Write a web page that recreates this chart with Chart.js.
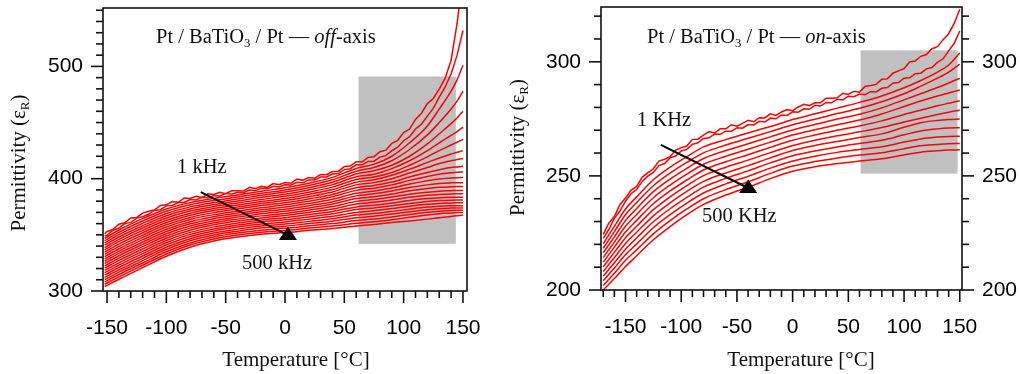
<!DOCTYPE html>
<html>
<head>
<meta charset="utf-8">
<script src="https://cdn.jsdelivr.net/npm/chart.js@4"></script>
<style>
  html, body { margin: 0; padding: 0; background: #fff; }
  #wrap { position: relative; width: 1020px; height: 374px; }
  #offChart { position: absolute; left: 0; top: 0; }
  #onChart { position: absolute; left: 500px; top: 0; }
</style>
</head>
<body>
<div id="wrap">
  <canvas id="offChart" width="500" height="374" style="width:500px;height:374px"></canvas>
  <canvas id="onChart" width="520" height="374" style="width:520px;height:374px"></canvas>
</div>
<script>
// temperaturas (°C) onde as curvas foram lidas
const tempOff = [-152, -140, -120, -100, -80, -60, -40, -20, 0, 20, 40, 60, 75, 90, 105, 120, 130, 140, 145, 150]
const tempOffFine = [-152, -150, -145, -140, -135, -130, -125, -120, -115, -110, -105, -100, -95, -90, -85, -80, -75, -70, -65, -60,
  -55, -50, -45, -40, -35, -30, -25, -20, -15, -10, -5, 0, 5, 10, 15, 20, 25, 30, 35, 40,
  45, 50, 55, 60, 65, 70, 75, 80, 85, 90, 95, 100, 105, 110, 115, 120, 125, 130, 135, 140, 145, 150]
const tempOn = [-170, -160, -150, -140, -125, -110, -95, -80, -60, -40, -20, 0, 20, 40, 60, 80, 100, 115, 130, 140, 150]
const tempOnFine = [-170, -165, -160, -155, -150, -145, -140, -135, -130, -125, -120, -115, -110, -105, -100, -95, -90, -85, -80, -75,
  -70, -65, -60, -55, -50, -45, -40, -35, -30, -25, -20, -15, -10, -5, 0, 5, 10, 15, 20, 25,
  30, 35, 40, 45, 50, 55, 60, 65, 70, 75, 80, 85, 90, 95, 100, 105, 110, 115, 120, 125, 130, 135, 140, 145, 150]

// off-axis: as duas curvas de baixa frequência (ruidosas), 1 kHz primeiro
const offTop1 = [351, 353.0, 354.9, 359.5, 360.8, 365.0, 365.5, 369.4, 371.0, 372.1, 376.2, 376.7, 379.6, 379.0, 382.7, 382.3, 384.3, 383.2, 386.5, 386.0,
  387.9, 386.7, 389.2, 389.2, 389.0, 392.3, 391.2, 393.3, 392.3, 395.7, 394.6, 396.6, 395.9, 399.6, 398.7, 401.0, 400.4, 403.8, 403.6, 406.4,
  406.7, 410.8, 411.2, 415.1, 415.0, 418.9, 419.6, 424.0, 425.4, 431.4, 434.2, 441.0, 444.2, 452.8, 458.3, 466.9, 471.4, 479.8, 489.5, 505.5, 538, 580]
const offTop2 = [349.0, 349.6, 354.1, 356.0, 360.0, 361.1, 364.9, 366.1, 368.3, 371.9, 372.4, 375.8, 376.2, 378.8, 378.8, 381.4, 381.0, 383.5, 383.0, 384.9,
  384.6, 386.9, 386.1, 387.9, 387.6, 389.9, 389.4, 391.5, 391.0, 393.3, 392.6, 394.6, 394.3, 396.8, 396.5, 398.9, 398.8, 401.5, 401.5, 404.1,
  404.6, 408.1, 408.9, 412.4, 412.5, 415.4, 415.6, 419.2, 420.5, 424.9, 428.1, 433.8, 437.5, 444.3, 448.6, 455.7, 462.6, 472.6, 481.7, 493.5, 509.8, 532]
// off-axis: demais frequências, até 500 kHz (última)
const offAxis = [
  [346.9, 354.3, 364.4, 373.0, 378.7, 382.4, 385.4, 388.8, 391.9, 396.0, 401.2, 409.1, 413, 420, 432, 447, 462, 478, 488, 501],
  [344.9, 352.2, 362.3, 371.0, 376.8, 380.6, 383.7, 387.0, 390.0, 394.0, 399.0, 406.7, 410, 416, 426, 439, 450, 462, 469, 478],
  [342.8, 350.2, 360.2, 369.0, 374.9, 378.8, 381.9, 385.2, 388.1, 392.0, 396.8, 404.2, 407, 412, 420, 431, 440, 449, 454, 460],
  [340.8, 348.1, 358.1, 367.0, 373.0, 377.0, 380.1, 383.4, 386.2, 390.0, 394.7, 401.8, 404, 409, 416, 425, 432, 438.5, 442, 446],
  [338.7, 346.0, 356.1, 365.0, 371.2, 375.2, 378.3, 381.5, 384.3, 388.0, 392.5, 399.3, 401.5, 405.5, 412, 419.5, 425, 430, 432.5, 435],
  [336.7, 343.9, 354.0, 363.0, 369.3, 373.4, 376.5, 379.7, 382.4, 386.0, 390.3, 396.9, 399, 403, 408.5, 414.5, 418.5, 422, 423.5, 425],
  [334.7, 341.8, 351.9, 361.0, 367.4, 371.6, 374.7, 377.9, 380.5, 384.0, 388.2, 394.5, 396.5, 400, 405, 410, 413.5, 416, 417, 418],
  [332.6, 339.7, 349.8, 359.0, 365.5, 369.8, 373.0, 376.1, 378.6, 382.0, 386.0, 392.0, 394, 397, 401.5, 405.5, 408, 410, 410.5, 411],
  [330.6, 337.6, 347.8, 357.0, 363.6, 368.0, 371.2, 374.2, 376.7, 380.0, 383.9, 389.6, 391.5, 394.5, 398.5, 402, 404, 405.3, 405.8, 406],
  [328.5, 335.5, 345.7, 355.0, 361.7, 366.2, 369.4, 372.4, 374.8, 378.0, 381.7, 387.1, 389, 391.8, 395.3, 398.2, 399.8, 400.6, 400.9, 401],
  [326.5, 333.5, 343.6, 353.0, 359.8, 364.4, 367.6, 370.6, 372.9, 376.0, 379.5, 384.7, 386.5, 389, 392.2, 394.5, 395.7, 396.3, 396.5, 396.5],
  [324.4, 331.4, 341.5, 351.0, 357.9, 362.5, 365.8, 368.8, 371.0, 374.0, 377.4, 382.3, 384, 386.3, 389.2, 391.3, 392.3, 392.8, 393, 393],
  [322.4, 329.3, 339.5, 349.0, 356.0, 360.7, 364.0, 366.9, 369.1, 372.0, 375.2, 379.8, 381.4, 383.6, 386.2, 388, 388.9, 389.3, 389.5, 389.5],
  [320.4, 327.2, 337.4, 347.0, 354.1, 358.9, 362.3, 365.1, 367.2, 370.0, 373.0, 377.4, 379, 381, 383.4, 385.2, 386, 386.4, 386.5, 386.5],
  [318.3, 325.1, 335.3, 345.0, 352.2, 357.1, 360.5, 363.3, 365.3, 368.0, 370.8, 374.9, 376.4, 378.4, 380.6, 382.3, 383, 383.4, 383.5, 383.5],
  [316.3, 323.0, 333.3, 343.0, 350.4, 355.3, 358.7, 361.5, 363.4, 366.0, 368.7, 372.5, 374, 375.9, 378, 379.8, 380.5, 380.9, 381, 381],
  [314.2, 320.9, 331.2, 341.0, 348.5, 353.5, 356.9, 359.6, 361.5, 364.0, 366.5, 370.0, 371.5, 373.4, 375.5, 377.2, 378, 378.4, 378.5, 378.5],
  [312.2, 318.8, 329.1, 339.0, 346.6, 351.7, 355.1, 357.8, 359.6, 362.0, 364.3, 367.6, 369, 370.9, 372.9, 374.7, 375.5, 375.9, 376, 376],
  [310.1, 316.8, 327.0, 337.0, 344.7, 349.9, 353.3, 356.0, 357.7, 360.0, 362.2, 365.2, 366.6, 368.5, 370.6, 372.4, 373.3, 373.8, 374, 374],
  [308.1, 314.7, 324.9, 335.0, 342.8, 348.1, 351.6, 354.2, 355.8, 358.0, 360.0, 362.7, 364.1, 366, 368.1, 370.1, 371.1, 371.7, 371.9, 372],
  [306.0, 312.6, 322.9, 333.0, 340.9, 346.3, 349.8, 352.3, 353.9, 356.0, 357.9, 360.3, 361.7, 363.5, 365.6, 367.7, 368.8, 369.5, 369.8, 370],
  [304, 310.5, 320.8, 331, 339, 344.5, 348, 350.5, 352, 354, 355.7, 357.8, 359.3, 360.9, 362.4, 364, 365.2, 366.4, 367, 367.6]
]

// on-axis: as duas curvas ruidosas de baixa frequência, 1 KHz primeiro
const onTop1 = [224.4, 229.3, 232.2, 237.5, 240.3, 243.8, 245.4, 249.5, 251.3, 253.1, 256.5, 257.3, 258.4, 261.3, 262.4, 263.1, 266.0, 266.1, 267.9, 269.4,
  268.8, 270.6, 270.6, 272.4, 271.8, 273.0, 274.4, 273.7, 275.5, 275.4, 277.2, 276.5, 278.0, 279.1, 278.6, 280.2, 281.4, 280.8, 282.0, 282.0,
  284.0, 284.0, 284.2, 286.2, 285.7, 287.1, 286.7, 289.2, 289.6, 290.1, 292.3, 292.5, 295.0, 296.0, 297.0, 299.9, 300.3, 302.4, 303.2, 305.7,
  306.6, 309.7, 312.3, 316.8, 323]
const onTop2 = [222.6, 226.5, 231.4, 234.6, 238.9, 242.3, 244.0, 247.6, 249.9, 251.5, 254.5, 255.4, 257.9, 258.7, 260.9, 261.6, 263.8, 264.5, 266.4, 266.7,
  268.3, 268.2, 269.6, 269.6, 271.1, 270.9, 272.5, 272.3, 273.9, 273.6, 275.3, 275.0, 276.7, 276.5, 278.1, 277.9, 279.4, 279.2, 280.9, 280.6,
  282.2, 282.0, 283.6, 283.3, 284.9, 284.7, 285.9, 285.6, 286.9, 286.8, 288.4, 288.7, 290.6, 290.9, 292.8, 293.0, 294.8, 295.0, 296.9, 297.5,
  299.7, 301.3, 304.8, 308.1, 313.5]
// on-axis: demais frequências, até 500 KHz (última)
const onAxis = [
  [220.3, 227.9, 235.5, 240.8, 248.3, 253.8, 258.4, 262.7, 265.9, 268.8, 271.6, 274.7, 277.2, 279.7, 282.2, 285, 288.6, 291.8, 295.5, 298.6, 303.8],
  [218.3, 225.6, 233.0, 238.3, 245.7, 251.2, 255.9, 260.1, 263.5, 266.5, 269.4, 272.4, 274.8, 277.3, 279.6, 282.5, 286, 289.3, 292.8, 295.5, 299],
  [216.3, 223.3, 230.4, 235.7, 243.1, 248.6, 253.3, 257.6, 261.1, 264.1, 267.1, 270.1, 272.5, 274.9, 277.0, 279.8, 283.3, 286, 288.7, 290.7, 292.8],
  [214.2, 221.0, 227.9, 233.1, 240.4, 246.0, 250.8, 255.1, 258.6, 261.7, 264.8, 267.9, 270.2, 272.4, 274.5, 277.1, 280.4, 282.8, 285.0, 286.3, 287.6],
  [212.2, 218.8, 225.4, 230.5, 237.8, 243.4, 248.2, 252.6, 256.2, 259.3, 262.5, 265.6, 267.9, 270.0, 271.9, 274.1, 276.9, 278.8, 280.7, 281.8, 282.9],
  [210.2, 216.5, 222.9, 227.9, 235.2, 240.8, 245.7, 250.1, 253.8, 256.9, 260.2, 263.3, 265.6, 267.6, 269.3, 271.2, 273.6, 275.3, 276.9, 277.9, 278.8],
  [208.1, 214.2, 220.4, 225.3, 232.5, 238.2, 243.2, 247.6, 251.3, 254.5, 257.9, 261.1, 263.3, 265.1, 266.8, 268.4, 271.3, 273.3, 274.3, 274.7, 274.9],
  [206.1, 211.9, 217.9, 222.8, 229.9, 235.6, 240.6, 245.1, 248.9, 252.2, 255.7, 258.8, 260.9, 262.7, 264.2, 265.6, 268.0, 269.7, 270.6, 271.0, 271.1],
  [204.1, 209.6, 215.5, 220.2, 227.3, 233.0, 238.1, 242.5, 246.5, 249.8, 253.4, 256.5, 258.6, 260.3, 261.6, 262.8, 264.8, 266.2, 267.0, 267.3, 267.4],
  [202.0, 207.3, 213.0, 217.6, 224.6, 230.4, 235.5, 240.0, 244.0, 247.4, 251.1, 254.3, 256.3, 257.8, 259.1, 260.1, 261.9, 263.2, 263.8, 264.1, 264.2],
  [200, 205, 210.3, 215, 222, 227.8, 233, 237.5, 241.6, 245, 248.8, 252, 254, 255.4, 256.5, 257.5, 259.2, 260.4, 261.0, 261.3, 261.4]
]

// regiões cinzas, em unidades dos dados
const shadeOff = { x0: 62, x1: 144, y0: 342, y1: 491 }
const shadeOn = { x0: 61, x1: 148, y0: 251, y1: 305 }

const SERIF = '"Liberation Serif", "Times New Roman", serif'
Chart.defaults.font.family = '"Liberation Sans", Arial, sans-serif'
Chart.defaults.font.size = 21
Chart.defaults.color = '#000'

// texto com subscrito / itálico
function richText(ctx, parts, x, y, size, center) {
  const fontOf = st => (st === 'i' ? 'italic ' : '') + (st === 'sub' ? size * 0.62 : size) + 'px ' + SERIF
  let w = 0
  for (const [t, st] of parts) { ctx.font = fontOf(st); w += ctx.measureText(t).width }
  let cx = center ? x - w / 2 : x
  for (const [t, st] of parts) {
    ctx.font = fontOf(st)
    ctx.fillText(t, cx, st === 'sub' ? y + size * 0.2 : y)
    cx += ctx.measureText(t).width
  }
}

function line(temps, r, noisy) {
  return {
    data: r.map((v, i) => ({ x: temps[i], y: v })),
    borderColor: '#ff0000',
    borderWidth: 1.5,
    pointRadius: 0,
    fill: false,
    tension: 0,
    cubicInterpolationMode: noisy ? 'default' : 'monotone'
  }
}

// caixa cinza atrás das curvas
const shadePlugin = {
  id: 'shade',
  beforeDatasetsDraw(chart, args, o) {
    const { ctx, scales: { x, y } } = chart
    const b = o.box
    ctx.save()
    ctx.fillStyle = '#c0c0c0'
    const px0 = x.getPixelForValue(b.x0), px1 = x.getPixelForValue(b.x1)
    const py0 = y.getPixelForValue(b.y0), py1 = y.getPixelForValue(b.y1)
    ctx.fillRect(px0, py1, px1 - px0, py0 - py1)
    ctx.restore()
  }
}

// moldura, marcas dos eixos, seta e textos
const decorPlugin = {
  id: 'decor',
  afterDraw(chart, args, o) {
    const { ctx, chartArea: a, scales } = chart
    ctx.save()
    // seta
    const x = scales.x, y = scales.y
    const sx = x.getPixelForValue(o.arrow[0]), sy = y.getPixelForValue(o.arrow[1])
    const ex = x.getPixelForValue(o.arrow[2]), ey = y.getPixelForValue(o.arrow[3])
    ctx.strokeStyle = '#000'
    ctx.lineWidth = 2
    ctx.beginPath(); ctx.moveTo(sx, sy); ctx.lineTo(ex, ey); ctx.stroke()
    ctx.fillStyle = '#000'
    ctx.beginPath()
    ctx.moveTo(ex, ey - 8.5); ctx.lineTo(ex + 9, ey + 5); ctx.lineTo(ex - 9, ey + 5)
    ctx.closePath(); ctx.fill()

    // moldura
    ctx.lineWidth = 1.6
    ctx.strokeStyle = '#111'
    ctx.strokeRect(a.left, a.top, a.right - a.left, a.bottom - a.top)

    // marcas
    for (const id of Object.keys(scales)) {
      const s = scales[id]
      const major = o.major[s.axis]
      for (const t of s.ticks) {
        const len = Math.abs(t.value % major) < 1e-6 ? 12 : 7
        const p = s.getPixelForValue(t.value)
        ctx.beginPath()
        if (s.axis === 'x') { ctx.moveTo(p, a.bottom); ctx.lineTo(p, a.bottom + len) }
        else if (s.position === 'left') { ctx.moveTo(a.left, p); ctx.lineTo(a.left - len, p) }
        else { ctx.moveTo(a.right, p); ctx.lineTo(a.right + len, p) }
        ctx.stroke()
      }
    }

    // textos
    ctx.fillStyle = '#111'
    ctx.textBaseline = 'alphabetic'
    for (const t of o.texts) richText(ctx, t.parts, t.x, t.y, t.size, t.center)
    // título do eixo y (girado)
    ctx.translate(o.ytitle[0], o.ytitle[1])
    ctx.rotate(-Math.PI / 2)
    richText(ctx, [['Permittivity (ε', ''], ['R', 'sub'], [')', '']], 0, 0, 21, true)
    ctx.restore()
  }
}

function xScale(min, max, h) {
  return {
    type: 'linear', min: min, max: max,
    grid: { drawOnChartArea: false, tickLength: 12, tickColor: 'rgba(0,0,0,0)' },
    border: { display: false },
    ticks: { stepSize: 10, includeBounds: false, autoSkip: false, maxRotation: 0, padding: 13,
      callback: v => (v % 50 === 0 ? String(v) : '') },
    afterFit: s => { s.height = h; s.paddingLeft = 0; s.paddingRight = 0 }
  }
}

function yScale(min, max, major, pos, w) {
  return {
    type: 'linear', position: pos, min: min, max: max,
    grid: { drawOnChartArea: false, tickLength: 12, tickColor: 'rgba(0,0,0,0)' },
    border: { display: false },
    ticks: { stepSize: 10, includeBounds: false, autoSkip: false, padding: 8,
      callback: v => (v % major === 0 ? String(v) : '') },
    afterFit: s => { s.width = w; s.paddingTop = 0; s.paddingBottom = 0 }
  }
}

const offSets = [line(tempOffFine, offTop1, true), line(tempOffFine, offTop2, true)]
  .concat(offAxis.map(r => line(tempOff, r, false)))
const onSets = [line(tempOnFine, onTop1, true), line(tempOnFine, onTop2, true)]
  .concat(onAxis.map(r => line(tempOn, r, false)))

new Chart(document.getElementById('offChart'), {
  type: 'line',
  data: { datasets: offSets },
  options: {
    responsive: false,
    animation: false,
    layout: { padding: { top: 8, right: 33, left: 0, bottom: 0 } },
    plugins: {
      legend: { display: false },
      tooltip: { enabled: false },
      shade: { box: shadeOff },
      decor: {
        major: { x: 50, y: 100 },
        arrow: [-71, 388, 2.5, 349.8],
        ytitle: [25, 163],
        texts: [
          { parts: [['Pt / BaTiO', ''], ['3', 'sub'], [' / Pt \u2014 ', ''], ['off', 'i'], ['-axis', '']], x: 156, y: 43, size: 20.5 },
          { parts: [['1 kHz', '']], x: 177, y: 173, size: 20.5 },
          { parts: [['500 kHz', '']], x: 242, y: 269, size: 20.5 },
          { parts: [['Temperature [\u00b0C]', '']], x: 296, y: 366, size: 21, center: true }
        ]
      }
    },
    scales: {
      x: xScale(-153.4, 153.4, 83),
      y: yScale(300, 552, 100, 'left', 103)
    }
  },
  plugins: [shadePlugin, decorPlugin]
})

new Chart(document.getElementById('onChart'), {
  type: 'line',
  data: { datasets: onSets },
  options: {
    responsive: false,
    animation: false,
    layout: { padding: { top: 7, right: 0, left: 0, bottom: 0 } },
    plugins: {
      legend: { display: false },
      tooltip: { enabled: false },
      shade: { box: shadeOn },
      decor: {
        major: { x: 50, y: 50 },
        arrow: [-118.3, 263.6, -39.9, 244.7],
        ytitle: [24, 147.5],
        texts: [
          { parts: [['Pt / BaTiO', ''], ['3', 'sub'], [' / Pt \u2014 ', ''], ['on', 'i'], ['-axis', '']], x: 147, y: 43, size: 20.5 },
          { parts: [['1 KHz', '']], x: 137, y: 126, size: 20.5 },
          { parts: [['500 KHz', '']], x: 202, y: 222, size: 20.5 },
          { parts: [['Temperature [\u00b0C]', '']], x: 301, y: 366, size: 21, center: true }
        ]
      }
    },
    scales: {
      x: xScale(-172, 152, 84),
      y: yScale(200, 324, 50, 'left', 101),
      y2: yScale(200, 324, 50, 'right', 58)
    }
  },
  plugins: [shadePlugin, decorPlugin]
})
</script>
</body>
</html>
